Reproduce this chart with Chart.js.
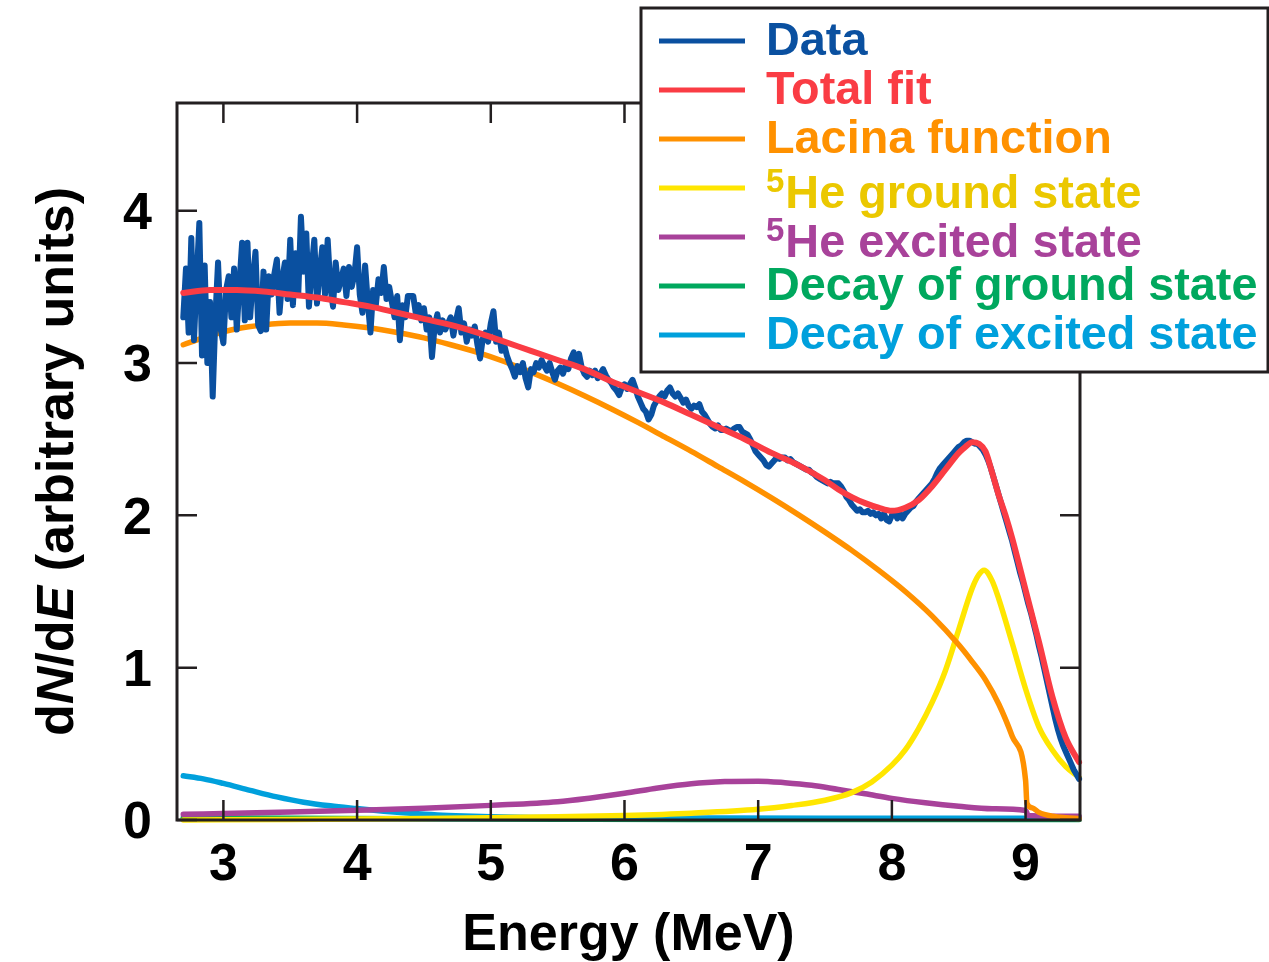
<!DOCTYPE html>
<html>
<head>
<meta charset="utf-8">
<script src="https://cdn.jsdelivr.net/npm/chart.js@4.4.1/dist/chart.umd.min.js"></script>
<style>
  html, body { margin: 0; padding: 0; background: #ffffff; }
  #wrap { width: 1269px; height: 962px; position: relative; }
</style>
</head>
<body>
<div id="wrap"><canvas id="spectrum" width="1269" height="962"></canvas></div>
<script>
// Measured spectrum: energy bins start at 2.70 MeV, 0.02 MeV wide
const dataEnergyStart = 2.70;
const dataEnergyStep = 0.02;
const dataCounts = [
  3.30, 3.62, 3.20, 3.82, 3.15, 3.55, 3.92, 3.05, 3.64, 3.00,
  3.40, 2.78, 3.30, 3.66, 3.22, 3.13, 3.48, 3.57, 3.30, 3.62,
  3.22, 3.52, 3.79, 3.28, 3.79, 3.30, 3.55, 3.73, 3.25, 3.21,
  3.60, 3.22, 3.57, 3.45, 3.58, 3.68, 3.33, 3.55, 3.66, 3.42,
  3.81, 3.38, 3.72, 3.45, 3.96, 3.60, 3.85, 3.37, 3.62, 3.81,
  3.39, 3.60, 3.76, 3.45, 3.81, 3.50, 3.37, 3.66, 3.48, 3.55,
  3.62, 3.44, 3.63, 3.50, 3.58, 3.76, 3.45, 3.33, 3.64, 3.40,
  3.20, 3.48, 3.38, 3.55, 3.46, 3.63, 3.42, 3.50, 3.40, 3.30,
  3.44, 3.15, 3.38, 3.30, 3.44, 3.44, 3.44, 3.32, 3.38, 3.28,
  3.36, 3.22, 3.30, 3.04, 3.24, 3.32, 3.20, 3.28, 3.22, 3.26,
  3.30, 3.18, 3.28, 3.36, 3.20, 3.26, 3.14, 3.22, 3.18, 3.24,
  3.12, 3.03, 3.16, 3.20, 3.14, 3.26, 3.34, 3.14, 3.20, 3.08,
  3.12, 3.05, 3.00, 2.96, 2.91, 2.98, 2.94, 3.00, 2.90, 2.84,
  2.96, 2.94, 3.00, 2.97, 3.02, 2.98, 2.95, 3.00, 2.94, 2.89,
  2.95, 2.97, 2.93, 2.98, 2.96, 3.03, 3.07, 3.00, 3.06, 2.97,
  2.93, 2.91, 2.95, 2.92, 2.95, 2.90, 2.93, 2.96, 2.92, 2.89,
  2.87, 2.84, 2.82, 2.79, 2.84, 2.86, 2.83, 2.86, 2.89, 2.84,
  2.78, 2.74, 2.70, 2.68, 2.63, 2.66, 2.72, 2.75, 2.78, 2.80,
  2.78, 2.82, 2.84, 2.80, 2.78, 2.80, 2.77, 2.74, 2.76, 2.72,
  2.70, 2.72, 2.71, 2.73, 2.68, 2.66, 2.63, 2.60, 2.58, 2.57,
  2.59, 2.56, 2.56, 2.57, 2.56, 2.55, 2.57, 2.58, 2.58, 2.55,
  2.54, 2.53, 2.50, 2.46, 2.42, 2.40, 2.38, 2.36, 2.33, 2.32,
  2.34, 2.36, 2.38, 2.37, 2.38, 2.38, 2.36, 2.37, 2.35, 2.34,
  2.33, 2.32, 2.31, 2.30, 2.30, 2.28, 2.27, 2.25, 2.24, 2.23,
  2.22, 2.21, 2.22, 2.21, 2.21, 2.21, 2.19, 2.16, 2.12, 2.10,
  2.07, 2.05, 2.03, 2.04, 2.02, 2.02, 2.03, 2.01, 2.02, 2.00,
  2.01, 1.98, 2.01, 1.97, 1.96, 2.00, 2.02, 1.98, 2.01, 1.98,
  2.01, 2.03, 2.05, 2.06, 2.09, 2.11, 2.13, 2.15, 2.17, 2.19,
  2.21, 2.24, 2.28, 2.31, 2.33, 2.35, 2.37, 2.39, 2.41, 2.43,
  2.45, 2.46, 2.48, 2.49, 2.49, 2.48, 2.47, 2.47, 2.45, 2.43,
  2.40, 2.36, 2.31, 2.25, 2.19, 2.13, 2.07, 2.01, 1.95, 1.89,
  1.83, 1.76, 1.69, 1.62, 1.56, 1.49, 1.42, 1.36, 1.29, 1.22,
  1.14, 1.07, 0.99, 0.91, 0.83, 0.75, 0.67, 0.60, 0.54, 0.49,
  0.45, 0.41, 0.37, 0.33, 0.30, 0.27
];

// Total fit
const fitEnergy = [2.7, 2.9, 3.1, 3.3, 3.5, 3.7, 3.9, 4.1, 4.3, 4.5, 4.7, 4.9, 5.1, 5.3, 5.5, 5.7, 5.9,
  6.1, 6.3, 6.5, 6.7, 6.9, 7.1, 7.3, 7.5, 7.6, 7.7, 7.8, 7.9, 8.0, 8.1, 8.2, 8.3, 8.4, 8.5, 8.55,
  8.6, 8.65, 8.7, 8.75, 8.8, 8.85, 8.9, 9.0, 9.1, 9.2, 9.3, 9.4];
const fitValues = [3.46, 3.48, 3.48, 3.47, 3.45, 3.43, 3.40, 3.37, 3.33, 3.29, 3.25, 3.20, 3.14, 3.08, 3.02, 2.96, 2.88,
  2.81, 2.74, 2.66, 2.58, 2.50, 2.41, 2.33, 2.23, 2.17, 2.12, 2.08, 2.05, 2.03, 2.05, 2.10, 2.19, 2.30, 2.41, 2.45,
  2.48, 2.47, 2.42, 2.28, 2.13, 2.00, 1.85, 1.51, 1.17, 0.81, 0.54, 0.38];

// Lacina function
const lacinaEnergy = [2.7, 2.9, 3.1, 3.3, 3.5, 3.7, 3.9, 4.1, 4.3, 4.5, 4.7, 4.9, 5.1, 5.3, 5.5, 5.7, 5.9,
  6.1, 6.3, 6.5, 6.7, 6.9, 7.1, 7.3, 7.5, 7.7, 7.9, 8.1, 8.3, 8.5, 8.6, 8.7, 8.8, 8.9, 9.0, 9.01,
  9.05, 9.1, 9.2, 9.3, 9.4];
const lacinaValues = [3.12, 3.18, 3.225, 3.25, 3.262, 3.262, 3.25, 3.23, 3.20, 3.165, 3.12, 3.07, 3.01, 2.94, 2.865, 2.785, 2.70,
  2.61, 2.515, 2.42, 2.32, 2.22, 2.115, 2.005, 1.89, 1.77, 1.64, 1.50, 1.34, 1.15, 1.04, 0.92, 0.76, 0.55, 0.26, 0.11,
  0.08, 0.05, 0.025, 0.015, 0.01];

// 5He ground state
const groundEnergy = [2.7, 3.5, 4.5, 5.0, 5.5, 6.0, 6.5, 7.0, 7.25, 7.5, 7.7, 7.85, 8.0, 8.1, 8.2, 8.3, 8.4,
  8.5, 8.6, 8.65, 8.69, 8.75, 8.8, 8.9, 9.0, 9.1, 9.2, 9.3, 9.4];
const groundValues = [0.0, 0.004, 0.01, 0.015, 0.021, 0.03, 0.045, 0.07, 0.095, 0.13, 0.18, 0.25, 0.36, 0.46, 0.60, 0.77, 0.98,
  1.25, 1.52, 1.61, 1.64, 1.57, 1.45, 1.16, 0.86, 0.61, 0.46, 0.35, 0.28];

// 5He excited state
const excitedEnergy = [2.7, 3.0, 3.5, 4.0, 4.5, 5.0, 5.5, 5.75, 6.0, 6.25, 6.5, 6.75, 7.0, 7.2, 7.4, 7.6, 7.8,
  8.0, 8.25, 8.5, 8.75, 9.0, 9.02, 9.2, 9.4];
const excitedValues = [0.037, 0.043, 0.053, 0.064, 0.077, 0.096, 0.12, 0.145, 0.175, 0.21, 0.238, 0.252, 0.255, 0.245, 0.228, 0.20, 0.172,
  0.142, 0.113, 0.09, 0.074, 0.062, 0.03, 0.025, 0.025];

// Decay of ground state
const decayGroundEnergy = [2.7, 3.5, 4.5, 5.5, 6.5, 9.4];
const decayGroundValues = [0.015, 0.012, 0.008, 0.005, 0.003, 0.003];

// Decay of excited state
const decayExcitedEnergy = [2.7, 2.85, 3.0, 3.2, 3.4, 3.6, 3.8, 4.0, 4.2, 4.4, 4.6, 4.8, 5.0, 5.3, 5.6, 6.5, 7.5, 8.5, 9.4];
const decayExcitedValues = [0.29, 0.27, 0.24, 0.195, 0.152, 0.117, 0.093, 0.075, 0.058, 0.044, 0.033, 0.026, 0.021, 0.017, 0.015, 0.013, 0.012, 0.012, 0.012];

const seriesNames = ['Data', 'Total fit', 'Lacina function', '\u2075He ground state', '\u2075He excited state',
  'Decay of ground state', 'Decay of excited state'];

const xTicks = [3, 4, 5, 6, 7, 8, 9];
const yTicks = [0, 1, 2, 3, 4];

const FONT = '"Liberation Sans", Arial, Helvetica, sans-serif';
const INK = '#231f20';

const pairs = (xs, ys) => xs.map((x, i) => ({ x, y: ys[i] }));
const dataPoints = dataCounts.map((y, i) => ({ x: +(dataEnergyStart + i * dataEnergyStep).toFixed(2), y }));

const lineStyle = (color, order, smooth, width) => ({
  borderColor: color,
  backgroundColor: color,
  borderWidth: width,
  pointRadius: 0,
  fill: false,
  order,
  clip: 6,
  cubicInterpolationMode: smooth ? 'monotone' : 'default',
  tension: 0,
  borderJoinStyle: 'round',
  borderCapStyle: 'round'
});

const datasets = [
  { label: seriesNames[0], data: dataPoints, ...lineStyle('#0a50a0', 1, false, 6), legendText: '#0a50a0' },
  { label: seriesNames[1], data: pairs(fitEnergy, fitValues), ...lineStyle('#fa3c44', 0, true, 6), legendText: '#fa3c44' },
  { label: seriesNames[2], data: pairs(lacinaEnergy, lacinaValues), ...lineStyle('#ff9100', 2, true, 5.5), legendText: '#ff9100' },
  { label: seriesNames[3], data: pairs(groundEnergy, groundValues), ...lineStyle('#ffe600', 3, true, 5.5), legendText: '#ebc800' },
  { label: seriesNames[4], data: pairs(excitedEnergy, excitedValues), ...lineStyle('#a8429a', 4, true, 5.5), legendText: '#a8429a' },
  { label: seriesNames[5], data: pairs(decayGroundEnergy, decayGroundValues), ...lineStyle('#00a85e', 6, true, 5.5), legendText: '#00a85e' },
  { label: seriesNames[6], data: pairs(decayExcitedEnergy, decayExcitedValues), ...lineStyle('#00a0dc', 5, true, 5.5), legendText: '#00a0dc' }
];

// Frame with inward ticks on all four sides, the y title and the boxed legend
const framePlugin = {
  id: 'frameAndLegend',
  afterDraw(chart) {
    const { ctx, chartArea: a, scales: { x, y } } = chart;
    ctx.save();
    ctx.strokeStyle = INK;
    ctx.lineCap = 'butt';
    ctx.lineWidth = 2.5;
    ctx.beginPath();
    const tl = 20;
    xTicks.forEach(v => {
      const p = x.getPixelForValue(v);
      ctx.moveTo(p, a.bottom); ctx.lineTo(p, a.bottom - tl);
      ctx.moveTo(p, a.top); ctx.lineTo(p, a.top + tl);
    });
    yTicks.forEach(v => {
      const p = y.getPixelForValue(v);
      ctx.moveTo(a.left, p); ctx.lineTo(a.left + tl, p);
      ctx.moveTo(a.right, p); ctx.lineTo(a.right - tl, p);
    });
    ctx.stroke();
    ctx.lineWidth = 3;
    ctx.strokeRect(a.left, a.top, a.right - a.left, a.bottom - a.top);

    // y axis title: dN/dE with italic N and E
    ctx.save();
    ctx.translate(73, (a.top + a.bottom) / 2);
    ctx.rotate(-Math.PI / 2);
    ctx.fillStyle = '#000';
    ctx.textBaseline = 'alphabetic';
    const segs = [['d', false], ['N', true], ['/d', false], ['E', true], [' (arbitrary units)', false]];
    const fontFor = it => (it ? 'italic ' : '') + 'bold 52px ' + FONT;
    let total = 0;
    segs.forEach(([t, it]) => { ctx.font = fontFor(it); total += ctx.measureText(t).width; });
    let cx = -total / 2;
    segs.forEach(([t, it]) => {
      ctx.font = fontFor(it);
      ctx.fillText(t, cx, 0);
      cx += ctx.measureText(t).width;
    });
    ctx.restore();

    // legend box
    const bx = 641, by = 8, bw = 627, bh = 364;
    ctx.fillStyle = '#fff';
    ctx.fillRect(bx, by, bw, bh);
    ctx.lineWidth = 3;
    ctx.strokeStyle = INK;
    ctx.strokeRect(bx, by, bw, bh);
    chart.data.datasets.forEach((ds, i) => {
      const ly = 41 + 49 * i;
      ctx.strokeStyle = ds.borderColor;
      ctx.lineWidth = 5;
      ctx.lineCap = 'butt';
      ctx.beginPath();
      ctx.moveTo(659, ly); ctx.lineTo(745, ly);
      ctx.stroke();
      ctx.fillStyle = ds.legendText;
      ctx.textBaseline = 'alphabetic';
      let label = ds.label;
      let tx = 766;
      let base = ly + 14;
      if (label.charAt(0) === '\u2075') {
        base = ly + 20;
        ctx.font = 'bold 33px ' + FONT;
        ctx.fillText('5', tx, base - 16);
        tx += ctx.measureText('5').width + 1;
        label = label.slice(1);
      }
      ctx.font = 'bold 46.8px ' + FONT;
      ctx.fillText(label, tx, base);
    });
    ctx.restore();
  }
};

new Chart(document.getElementById('spectrum'), {
  type: 'line',
  data: { datasets },
  options: {
    responsive: false,
    animation: false,
    devicePixelRatio: 1,
    layout: { padding: { left: 0, top: 103, right: 189, bottom: 0 } },
    plugins: { legend: { display: false }, tooltip: { enabled: false } },
    scales: {
      x: {
        type: 'linear',
        min: 2.653,
        max: 9.407,
        afterFit: s => { s.height = 142; },
        afterBuildTicks: s => { s.ticks = xTicks.map(v => ({ value: v })); },
        grid: { display: false, drawTicks: false },
        border: { display: false },
        ticks: { color: '#000', padding: 20, maxRotation: 0, autoSkip: false,
                 font: { family: FONT, size: 52, weight: 'bold', lineHeight: 1 } },
        title: { display: true, text: 'Energy (MeV)', color: '#000', padding: { top: 0, bottom: 0 },
                 font: { family: FONT, size: 52, weight: 'bold', lineHeight: 1 } }
      },
      y: {
        type: 'linear',
        min: 0,
        max: 4.707,
        afterFit: s => { s.width = 177; },
        afterBuildTicks: s => { s.ticks = yTicks.map(v => ({ value: v })); },
        grid: { display: false, drawTicks: false },
        border: { display: false },
        ticks: { color: '#000', padding: 25, labelOffset: 4, autoSkip: false,
                 font: { family: FONT, size: 52, weight: 'bold', lineHeight: 1 } }
      }
    }
  },
  plugins: [framePlugin]
});
</script>
</body>
</html>
